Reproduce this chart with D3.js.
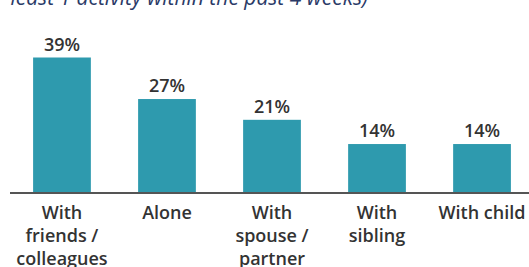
<!DOCTYPE html>
<html>
<head>
<meta charset="utf-8">
<script src="https://cdn.jsdelivr.net/npm/d3@7"></script>
<style>
  body { margin: 0; background: #fff; }
  svg { display: block; font-family: "Open Sans", sans-serif; }
</style>
</head>
<body>
<svg id="canvas" width="529" height="267"></svg>
<script>
// chart data
let categories = [
  ["With", "friends /", "colleagues"],
  ["Alone"],
  ["With", "spouse /", "partner"],
  ["With", "sibling"],
  ["With child"]
];
let values = [39, 27, 21, 14, 14];
let subtitle = "least 1 activity within the past 4 weeks)";

let canvas = d3.select("#canvas");

let baseY = 192.5;
let x = d3.scaleBand()
  .domain(d3.range(values.length))
  .range([10, 534])
  .paddingInner(0.45)
  .paddingOuter(0.22);
let y = d3.scaleLinear().domain([0, 39]).range([baseY, 57.5]);

// subtitle, mostly cut off by the top edge
canvas.append("text")
  .attr("x", 368)
  .attr("y", 5)
  .attr("text-anchor", "end")
  .attr("font-size", 21)
  .attr("font-style", "italic")
  .attr("fill", "#2b3a67")
  .text(subtitle);

canvas.selectAll("rect.bar")
  .data(values)
  .enter()
  .append("rect")
  .attr("class", "bar")
  .attr("x", (d, i) => x(i))
  .attr("width", x.bandwidth())
  .attr("y", (d) => y(d))
  .attr("height", (d) => baseY - y(d))
  .attr("fill", "#2e9aae");

canvas.selectAll("text.val")
  .data(values)
  .enter()
  .append("text")
  .attr("class", "val")
  .attr("x", (d, i) => x(i) + x.bandwidth() / 2)
  .attr("y", (d) => y(d) - 7)
  .attr("text-anchor", "middle")
  .attr("font-size", 18)
  .attr("font-weight", 600)
  .attr("fill", "#333")
  .text((d) => d + "%");

// baseline
canvas.append("line")
  .attr("x1", 10).attr("x2", 529)
  .attr("y1", baseY + 0.5).attr("y2", baseY + 0.5)
  .attr("stroke", "#555")
  .attr("stroke-width", 2);

let labels = canvas.selectAll("text.cat")
  .data(categories)
  .enter()
  .append("text")
  .attr("class", "cat")
  .attr("text-anchor", "middle")
  .attr("font-size", 18)
  .attr("font-weight", 600)
  .attr("fill", "#333");

labels.selectAll("tspan")
  .data((d, i) => d.map((t) => ({ t: t, i: i })))
  .enter()
  .append("tspan")
  .attr("x", (d) => x(d.i) + x.bandwidth() / 2)
  .attr("y", (d, j) => 219 + j * 23)
  .text((d) => d.t);
</script>
</body>
</html>
